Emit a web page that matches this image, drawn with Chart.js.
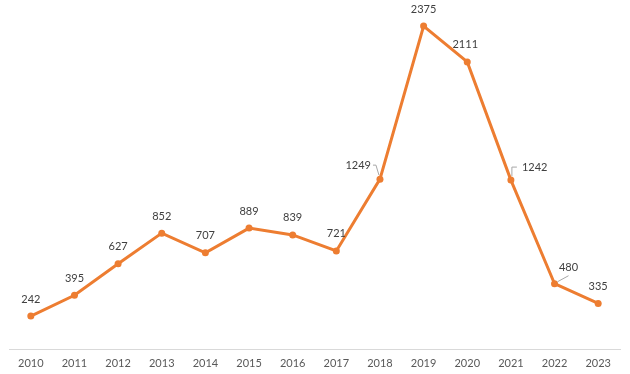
<!DOCTYPE html>
<html>
<head>
<meta charset="utf-8">
<script src="https://cdn.jsdelivr.net/npm/chart.js@4/dist/chart.umd.min.js"></script>
<style>
  html, body { margin: 0; padding: 0; background: #fff; }
  #wrap { width: 630px; height: 374px; position: relative; }
</style>
</head>
<body>
<div id="wrap"><canvas id="chart"></canvas></div>
<script>
const years = ['2010', '2011', '2012', '2013', '2014', '2015', '2016', '2017', '2018', '2019', '2020', '2021', '2022', '2023'];
const counts = [242, 395, 627, 852, 707, 889, 839, 721, 1249, 2375, 2111, 1242, 480, 335];

const orange = '#ED7D31';
const fontFamily = 'Lato, "Liberation Sans", Arial, sans-serif';

// data labels drawn above the points; a few sit off to the side with a thin leader line
const labelPlugin = {
    id: 'pointLabels',
    afterDatasetsDraw(chart) {
        const ctx = chart.ctx;
        const pts = chart.getDatasetMeta(0).data;
        ctx.save();
        ctx.font = '11px ' + fontFamily;
        ctx.fillStyle = '#404040';
        ctx.textBaseline = 'middle';
        ctx.strokeStyle = '#a6a6a6';
        ctx.lineWidth = 1;
        pts.forEach((p, i) => {
            const txt = String(counts[i]);
            if (i === 8) {
                ctx.textAlign = 'right';
                ctx.fillText(txt, p.x - 9, p.y - 14);
                ctx.beginPath();
                ctx.moveTo(p.x - 7, p.y - 14);
                ctx.lineTo(p.x - 4, p.y - 14);
                ctx.lineTo(p.x - 1, p.y - 4);
                ctx.stroke();
            } else if (i === 11) {
                ctx.textAlign = 'left';
                ctx.fillText(txt, p.x + 11, p.y - 13);
                ctx.beginPath();
                ctx.moveTo(p.x + 6, p.y - 13);
                ctx.lineTo(p.x + 1, p.y - 13);
                ctx.lineTo(p.x + 1, p.y - 4);
                ctx.stroke();
            } else if (i === 12) {
                ctx.textAlign = 'center';
                ctx.fillText(txt, p.x + 14, p.y - 16);
                ctx.beginPath();
                ctx.moveTo(p.x + 14, p.y - 8);
                ctx.lineTo(p.x + 3, p.y - 2);
                ctx.stroke();
            } else {
                ctx.textAlign = 'center';
                const dx = (i === 10) ? -2 : 0;
                ctx.fillText(txt, p.x + dx, p.y - 17);
            }
        });
        ctx.restore();
    }
};

new Chart(document.getElementById('chart'), {
    type: 'line',
    data: {
        labels: years,
        datasets: [{
            data: counts,
            borderColor: orange,
            backgroundColor: orange,
            borderWidth: 3,
            pointRadius: 3.5,
            pointHoverRadius: 3.5,
            pointBorderWidth: 0,
            tension: 0
        }]
    },
    options: {
        responsive: true,
        maintainAspectRatio: false,
        animation: false,
        layout: { padding: { left: 9, right: 10, top: 9, bottom: 0 } },
        plugins: { legend: { display: false }, tooltip: { enabled: false } },
        scales: {
            x: {
                offset: true,
                grid: { display: false, drawTicks: false },
                border: { display: true, color: '#d9d9d9', width: 1 },
                ticks: { color: '#595959', font: { family: fontFamily, size: 11 }, padding: 8, maxRotation: 0 },
                afterFit: (scale) => { scale.height = 25; }
            },
            y: {
                display: false,
                min: 0,
                max: 2500
            }
        }
    },
    plugins: [labelPlugin]
});
</script>
</body>
</html>
